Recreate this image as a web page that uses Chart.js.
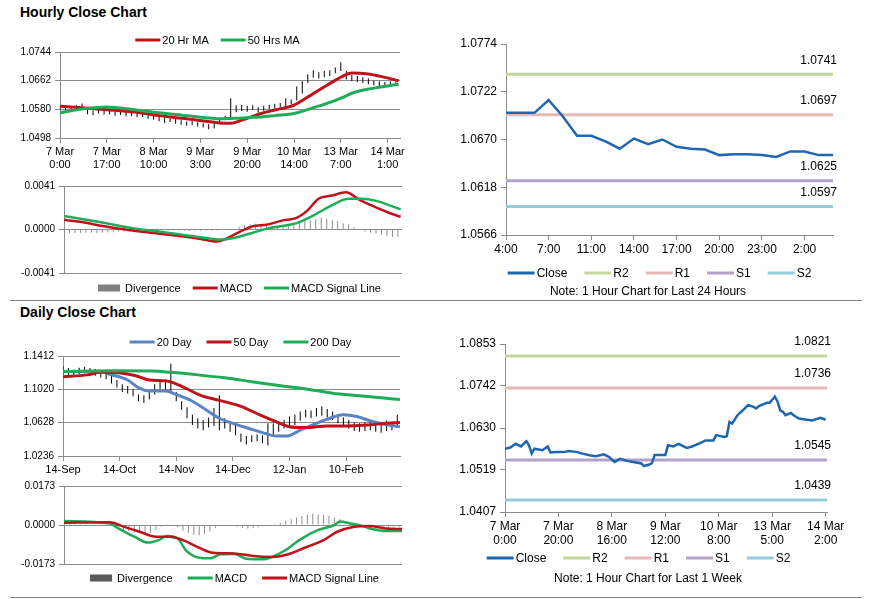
<!DOCTYPE html>
<html>
<head>
<meta charset="utf-8">
<script src="https://cdn.jsdelivr.net/npm/chart.js@4.4.1/dist/chart.umd.min.js"></script>
<style>
    body { margin: 0; background: #fff; font-family: "Liberation Sans", Arial, sans-serif; }
    #page { position: relative; width: 873px; height: 601px; overflow: hidden; }
    #page canvas { position: absolute; }
    .title { position: absolute; left: 20px; font-weight: bold; font-size: 14px; line-height: 17px; color: #000; }
    .rule { position: absolute; left: 10px; width: 852px; height: 0; border-top: 1px solid #808080; }
</style>
</head>
<body>
<div id="page">
    <div class="title" style="top:4px">Hourly Close Chart</div>
    <div class="title" style="top:304px">Daily Close Chart</div>
    <div class="rule" style="top:300px"></div>
    <div class="rule" style="top:597px"></div>
    <canvas id="hourPrice" width="420" height="145" style="left:0;top:30px"></canvas>
    <canvas id="hourMacd" width="420" height="122" style="left:0;top:176px"></canvas>
    <canvas id="dayHour" width="453" height="270" style="left:420px;top:30px"></canvas>
    <canvas id="dayPrice" width="420" height="150" style="left:0;top:325px"></canvas>
    <canvas id="dayMacd" width="420" height="118" style="left:0;top:476px"></canvas>
    <canvas id="weekHour" width="453" height="270" style="left:420px;top:325px"></canvas>
</div>
<script>
// ---- Hourly close (last week, hours since 7 Mar 0:00) ----
const hourTicks = [0, 17, 34, 51, 68, 85, 102, 119];
const hourTickLabels = [["7 Mar", "0:00"], ["7 Mar", "17:00"], ["8 Mar", "10:00"], ["9 Mar", "3:00"],
    ["9 Mar", "20:00"], ["10 Mar", "14:00"], ["13 Mar", "7:00"], ["14 Mar", "1:00"]];
const hourStep = 2; // one bar every 2 hours
const hourLow = [
    1.0577, 1.0579, 1.0580, 1.0582, 1.0585, 1.0566, 1.0563, 1.0568, 1.0565, 1.0566,
    1.0562, 1.0564, 1.0560, 1.0561, 1.0557, 1.0558, 1.0553, 1.0550, 1.0546, 1.0541,
    1.0544, 1.0539, 1.0536, 1.0533, 1.0535, 1.0531, 1.0528, 1.0523, 1.0525, 1.0538,
    1.0549, 1.0556, 1.0572, 1.0575, 1.0573, 1.0578, 1.0571, 1.0576, 1.0580, 1.0583,
    1.0585, 1.0588, 1.0595, 1.0605, 1.0625, 1.0655, 1.0670, 1.0668, 1.0672, 1.0675,
    1.0683, 1.0690, 1.0665, 1.0660, 1.0658, 1.0655, 1.0652, 1.0648, 1.0646, 1.0644,
    1.0648, 1.0649];
const hourHigh = [
    1.0588, 1.0590, 1.0589, 1.0592, 1.0597, 1.0581, 1.0577, 1.0579, 1.0578, 1.0576,
    1.0574, 1.0575, 1.0573, 1.0572, 1.0570, 1.0568, 1.0566, 1.0563, 1.0560, 1.0557,
    1.0556, 1.0552, 1.0549, 1.0545, 1.0546, 1.0543, 1.0540, 1.0537, 1.0540, 1.0556,
    1.0562, 1.0612, 1.0592, 1.0593, 1.0590, 1.0592, 1.0586, 1.0590, 1.0593, 1.0596,
    1.0598, 1.0612, 1.0608, 1.0645, 1.0660, 1.0680, 1.0692, 1.0686, 1.0690, 1.0692,
    1.0700, 1.0715, 1.0690, 1.0678, 1.0675, 1.0672, 1.0668, 1.0662, 1.0660, 1.0658,
    1.0660, 1.0659];
const hourMaX = [0, 9, 17, 27, 36, 46, 53, 58, 62, 66, 69, 73, 78, 85, 91, 97, 103, 106, 112, 116, 123];
const hourMa20 = [1.0589, 1.0584, 1.0579, 1.0572, 1.0562, 1.0553, 1.0546, 1.0541, 1.0540, 1.0549, 1.0557,
    1.0568, 1.0578, 1.0592, 1.0620, 1.0649, 1.0676, 1.0684, 1.0681, 1.0675, 1.0662];
const hourMa50 = [1.0570, 1.0582, 1.0587, 1.0579, 1.0570, 1.0562, 1.0556, 1.0553, 1.0554, 1.0555, 1.0557,
    1.0558, 1.0562, 1.0568, 1.0582, 1.0597, 1.0615, 1.0626, 1.0638, 1.0643, 1.0652];
const hourMacdX = [0, 8, 13, 25, 35, 45, 50, 56, 59, 64, 69, 74, 80, 85, 89, 93, 98, 103, 108, 113, 118, 123];
const hourMacd = [0.00092, 0.00064, 0.00038, -0.0001, -0.0004, -0.0007, -0.0009, -0.00114, -0.0009, -0.00025,
    0.0003, 0.00045, 0.00086, 0.0011, 0.0018, 0.0029, 0.0032, 0.0035, 0.0028, 0.0022, 0.00165, 0.0012];
const hourSignalX = [0, 13, 25, 35, 45, 52, 57, 62, 69, 74, 81, 85, 91, 98, 104, 109, 114, 123];
const hourSignal = [0.00127, 0.0007, 0.00013, -0.0002, -0.00057, -0.0008, -0.00095, -0.0008, -0.0003, 0.00006,
    0.00038, 0.0006, 0.0013, 0.0023, 0.0029, 0.0029, 0.0027, 0.0019];
const hourDiv = [
    -0.00035, -0.00035, -0.00033, -0.00032, -0.0003, -0.0003, -0.00032, -0.0003, -0.00028, -0.00025,
    -0.00022, -0.0002, -0.00018, -0.00015, -0.00015, -0.00012, -0.0001, -0.0001, -0.00012, -0.00012,
    -0.0001, -0.0001, -0.00012, -0.00012, -0.0001, -0.00012, -0.0001, -0.00012, -0.0001, -0.00005,
    0.0, 0.00005, 0.00025, 0.0004, 0.0005, 0.00055, 0.0005, 0.0004, 0.00038, 0.00035,
    0.00035, 0.00033, 0.0004, 0.0006, 0.0008, 0.0009, 0.001, 0.0011, 0.001, 0.0009,
    0.0008, 0.0006, 0.0005, 0.0002, 0.0, -0.0002, -0.0003, -0.0004, -0.0005, -0.0006,
    -0.0007, -0.0007];

// ---- Last 24 hours with pivot levels ----
const h24Ticks = [0, 3, 6, 9, 12, 15, 18, 21];
const h24TickLabels = ["4:00", "7:00", "11:00", "14:00", "17:00", "20:00", "23:00", "2:00"];
const h24Close = [1.0699, 1.0699, 1.0699, 1.0713, 1.0695, 1.0674, 1.0674, 1.0668, 1.0660, 1.0671, 1.0665, 1.0670,
    1.0662, 1.0660, 1.0659, 1.0653, 1.0654, 1.0654, 1.0653, 1.0651, 1.0657, 1.0657, 1.0653, 1.0653];
const levelNames = ["R2", "R1", "S1", "S2"];
const h24Levels = [1.0741, 1.0697, 1.0625, 1.0597];

// ---- Daily close ----
const dayTicks = [0, 21, 42, 63, 84, 105];
const dayTickLabels = ["14-Sep", "14-Oct", "14-Nov", "14-Dec", "12-Jan", "10-Feb"];
const dayStep = 2;
const dayLow = [
    1.1200, 1.1190, 1.1170, 1.1200, 1.1210, 1.1200, 1.1180, 1.1160, 1.1140, 1.1090,
    1.1040, 1.0990, 1.0970, 1.0940, 1.0880, 1.0860, 1.0900, 1.0960, 1.1020, 1.1000,
    1.0980, 1.0880, 1.0780, 1.0680, 1.0600, 1.0560, 1.0540, 1.0570, 1.0590, 1.0540,
    1.0560, 1.0520, 1.0480, 1.0400, 1.0370, 1.0400, 1.0410, 1.0390, 1.0360, 1.0480,
    1.0520, 1.0560, 1.0590, 1.0600, 1.0650, 1.0690, 1.0680, 1.0700, 1.0710, 1.0690,
    1.0660, 1.0620, 1.0590, 1.0560, 1.0530, 1.0520, 1.0530, 1.0540, 1.0520, 1.0510,
    1.0530, 1.0540, 1.0570];
const dayHigh = [
    1.1290, 1.1270, 1.1250, 1.1275, 1.1285, 1.1270, 1.1260, 1.1240, 1.1230, 1.1200,
    1.1130, 1.1080, 1.1060, 1.1020, 1.0960, 1.0950, 1.1000, 1.1080, 1.1120, 1.1110,
    1.1320, 1.0990, 1.0880, 1.0810, 1.0720, 1.0680, 1.0660, 1.0690, 1.0800, 1.0950,
    1.0680, 1.0640, 1.0600, 1.0500, 1.0470, 1.0480, 1.0490, 1.0480, 1.0620, 1.0620,
    1.0640, 1.0660, 1.0700, 1.0720, 1.0760, 1.0780, 1.0770, 1.0800, 1.0820, 1.0790,
    1.0760, 1.0720, 1.0690, 1.0660, 1.0630, 1.0620, 1.0630, 1.0640, 1.0610, 1.0620,
    1.0650, 1.0640, 1.0720];
const dayMa20X = [0, 14, 17, 24, 28, 32, 38, 42, 48, 53, 58, 63, 69, 75, 79, 83, 88, 94, 99, 104, 109, 113, 119, 125];
const dayMa20 = [1.1230, 1.1230, 1.1200, 1.1130, 1.1040, 1.1000, 1.1000, 1.0960, 1.0880, 1.0780, 1.0680, 1.0620,
    1.0560, 1.0500, 1.0470, 1.0470, 1.0540, 1.0620, 1.0680, 1.0720, 1.0700, 1.0660, 1.0610, 1.0580];
const dayMa50X = [0, 9, 14, 22, 27, 32, 38, 43, 51, 58, 66, 73, 79, 84, 90, 98, 105, 113, 120, 125];
const dayMa50 = [1.1169, 1.1190, 1.1220, 1.1210, 1.1180, 1.1130, 1.1120, 1.1070, 1.0950, 1.0890, 1.0820, 1.0720,
    1.0640, 1.0580, 1.0570, 1.0590, 1.0590, 1.0600, 1.0620, 1.0630];
const dayMa200X = [0, 20, 33, 40, 50, 60, 70, 80, 90, 100, 110, 120, 125];
const dayMa200 = [1.1230, 1.1238, 1.1236, 1.1220, 1.1190, 1.1155, 1.1110, 1.1065, 1.1025, 1.0975, 1.0945, 1.0915, 1.0900];
const dayMacdX = [0, 17, 19, 26, 31, 35, 38, 42, 45, 50, 54, 58, 63, 68, 74, 77, 82, 87, 94, 100, 102, 106, 110, 114, 119, 125];
const dayMacd = [0.0018, 0.0007, -0.0007, -0.0052, -0.0078, -0.0067, -0.0049, -0.0059, -0.0111, -0.0145, -0.0148,
    -0.0130, -0.0129, -0.0151, -0.0152, -0.0141, -0.0111, -0.0067, -0.0022, 0.0000, 0.0015, 0.0007, -0.0003,
    -0.0018, -0.0027, -0.0027];
const daySignalX = [0, 17, 22, 28, 34, 39, 44, 50, 55, 63, 70, 77, 82, 89, 96, 101, 107, 113, 119, 125];
const daySignal = [0.0010, 0.0012, -0.0007, -0.0030, -0.0052, -0.0052, -0.0067, -0.0101, -0.0123, -0.0126, -0.0138,
    -0.0142, -0.0133, -0.0101, -0.0067, -0.0030, -0.0009, -0.0004, -0.0015, -0.0018];
const dayDiv = [
    0.0008, 0.0007, 0.0006, 0.0005, 0.0004, 0.0003, 0.0002, 0.0001, 0.0, -0.0005,
    -0.0012, -0.0020, -0.0027, -0.0033, -0.0038, -0.0040, -0.0035, -0.0022, -0.0008, 0.0003,
    0.0002, -0.0010, -0.0025, -0.0035, -0.0043, -0.0045, -0.0040, -0.0028, -0.0012, -0.0003,
    -0.0002, -0.0003, -0.0008, -0.0012, -0.0015, -0.0013, -0.0010, -0.0006, -0.0002, 0.0003,
    0.0010, 0.0018, 0.0026, 0.0033, 0.0040, 0.0045, 0.0050, 0.0048, 0.0045, 0.0040,
    0.0033, 0.0025, 0.0015, 0.0006, -0.0002, -0.0006, -0.0009, -0.0011, -0.0012, -0.0012,
    -0.0011, -0.0010, -0.0010];

// ---- Last week, 1 hour chart with pivot levels ----
const weekTicks = [0, 20, 40, 60, 80, 100, 120];
const weekTickLabels = [["7 Mar", "0:00"], ["7 Mar", "20:00"], ["8 Mar", "16:00"], ["9 Mar", "12:00"],
    ["10 Mar", "8:00"], ["13 Mar", "5:00"], ["14 Mar", "2:00"]];
const weekX = [0, 2, 4, 6, 8, 9, 10, 11, 14, 16, 17, 19, 22, 24, 27, 29, 32, 34, 37, 39,
    41, 43, 46, 48, 51, 52, 54, 55, 56, 58, 60, 61, 63, 65, 68, 70, 73, 75, 78, 79,
    82, 83, 84, 85, 87, 89, 91, 93, 94, 95, 98, 99, 101, 102, 103, 104, 105, 107, 108, 110,
    113, 115, 118, 120];
const weekClose = [1.0575, 1.0578, 1.0588, 1.0581, 1.0595, 1.0584, 1.0562, 1.0575, 1.0571, 1.0581,
    1.0565, 1.0566, 1.0566, 1.0569, 1.0566, 1.0562, 1.0557, 1.0555, 1.0560, 1.0553,
    1.0540, 1.0548, 1.0542, 1.0540, 1.0536, 1.0529, 1.0533, 1.0537, 1.0558, 1.0558,
    1.0558, 1.0584, 1.0581, 1.0588, 1.0577, 1.0581, 1.0590, 1.0597, 1.0597, 1.0611,
    1.0606, 1.0608, 1.0646, 1.0642, 1.0664, 1.0677, 1.0691, 1.0686, 1.0682, 1.0688,
    1.0697, 1.0697, 1.0713, 1.0700, 1.0677, 1.0673, 1.0664, 1.0670, 1.0664, 1.0655,
    1.0652, 1.0650, 1.0657, 1.0652];
const weekLevels = [1.0821, 1.0736, 1.0545, 1.0439];

document.addEventListener("DOMContentLoaded", function () {
    const GRID = "#8c8c8c";
    const RED = "#c0121b";
    const GREEN = "#20ab58";
    const BLUE = "#5b85c2";
    const CLOSE_BLUE = "#1f66b1";
    const DIV_GRAY = "#8e8e8e";
    const LEVEL_COLORS = ["#c3d69b", "#e6b9b8", "#b3a2c7", "#93cddd"];
    const NARROW = '"Liberation Sans Narrow", "Liberation Sans", Arial, sans-serif';
    const SANS = '"Liberation Sans", Arial, sans-serif';

    // draws legend, level value labels and the note line
    function extras(cfg) {
        return {
            id: "extras",
            afterDatasetsDraw(chart) {
                const ctx = chart.ctx;
                const area = chart.chartArea;
                const ys = chart.scales.y;
                ctx.save();
                ctx.textBaseline = "middle";
                ctx.fillStyle = "#000";
                chart.data.datasets.forEach(function (ds) {
                    if (ds.level === undefined) return;
                    ctx.font = cfg.font;
                    ctx.textAlign = "right";
                    ctx.fillText(ds.level.toFixed(4), area.right + 4, ys.getPixelForValue(ds.level) - 14);
                });
                ctx.font = cfg.font;
                ctx.textAlign = "left";
                const items = cfg.order.map(i => chart.data.datasets[i]);
                const widths = items.map(d => cfg.box + 3 + ctx.measureText(d.label).width);
                let x = cfg.x - (widths.reduce((a, b) => a + b, 0) + cfg.gap * (items.length - 1)) / 2;
                items.forEach(function (d, k) {
                    ctx.fillStyle = d.legendColor || d.borderColor;
                    if (d.type === "bar") ctx.fillRect(x, cfg.y - 3.5, cfg.box - 3, 7);
                    else ctx.fillRect(x, cfg.y - 1.5, cfg.box, 3);
                    ctx.fillStyle = "#000";
                    ctx.fillText(d.label, x + cfg.box + 2, cfg.y + 0.5);
                    x += widths[k] + cfg.gap;
                });
                if (cfg.note) {
                    ctx.textAlign = "center";
                    ctx.fillText(cfg.note, cfg.noteX, cfg.noteY);
                }
                ctx.restore();
            },
        };
    }

    function yAxis(ticks, width, size, gridOn) {
        return {
            min: ticks[0],
            max: ticks[ticks.length - 1],
            afterBuildTicks: s => { s.ticks = ticks.map(v => ({ value: v })); },
            afterFit: s => { s.width = width; },
            ticks: { callback: v => v.toFixed(4), font: { family: SANS, size }, color: "#000", padding: 4 },
            grid: { drawOnChartArea: gridOn, color: GRID, tickLength: 5 },
            border: { color: GRID },
        };
    }

    function xAxis(max, ticks, labels, height, size, show) {
        return {
            type: "linear",
            min: 0,
            max,
            offset: false,
            display: show,
            afterBuildTicks: s => { s.ticks = ticks.map(v => ({ value: v })); },
            afterFit: s => { s.height = height; },
            ticks: {
                callback: (v, i) => labels[i],
                font: { family: NARROW, size, lineHeight: 1.2 },
                color: "#000",
                maxRotation: 0,
                autoSkip: false,
                padding: 2,
            },
            grid: { drawOnChartArea: false, color: GRID, tickLength: 5, offset: false },
            border: { color: GRID },
        };
    }

    function options(padding, scales) {
        return {
            responsive: false,
            animation: false,
            events: [],
            layout: { padding },
            plugins: { legend: { display: false }, tooltip: { enabled: false } },
            scales,
        };
    }

    function line(label, xs, ys, color, width, order, smooth) {
        return {
            type: "line",
            label,
            data: ys.map((v, i) => ({ x: xs[i], y: v })),
            borderColor: color,
            borderWidth: width,
            pointRadius: 0,
            fill: false,
            tension: smooth ? 0.4 : 0,
            cubicInterpolationMode: smooth ? "monotone" : "default",
            order,
        };
    }

    function rangeBars(label, lows, highs, step) {
        return {
            type: "bar",
            label,
            data: lows.map((v, i) => ({ x: i * step, y: [v, highs[i]] })),
            backgroundColor: "#000",
            barThickness: 1,
            inflateAmount: 0,
            order: 5,
        };
    }

    function divBars(values, step, color) {
        return {
            type: "bar",
            label: "Divergence",
            data: values.map((v, i) => ({ x: i * step, y: v })),
            backgroundColor: DIV_GRAY,
            legendColor: color,
            barThickness: 1,
            inflateAmount: 0,
            order: 5,
        };
    }

    function levelLines(levels, xMax) {
        return levels.map((v, i) => ({
            type: "line",
            label: levelNames[i],
            level: v,
            data: [{ x: 0, y: v }, { x: xMax, y: v }],
            borderColor: LEVEL_COLORS[i],
            borderWidth: 3,
            pointRadius: 0,
            fill: false,
            order: 2,
        }));
    }

    // Hourly close with moving averages
    new Chart(document.getElementById("hourPrice"), {
        type: "line",
        data: {
            datasets: [
                line("20 Hr MA", hourMaX, hourMa20, RED, 3, 1, true),
                line("50 Hrs MA", hourMaX, hourMa50, GREEN, 3, 0, true),
                rangeBars("Price", hourLow, hourHigh, hourStep),
            ],
        },
        options: options({ top: 22, right: 20, left: 0, bottom: 0 }, {
            x: xAxis(123.5, hourTicks, hourTickLabels, 37, 11, true),
            y: yAxis([1.0498, 1.0580, 1.0662, 1.0744], 60, 10, true),
        }),
        plugins: [extras({ font: "11px " + SANS, order: [0, 1], x: 218, y: 10, box: 25, gap: 11 })],
    });

    // Hourly MACD
    new Chart(document.getElementById("hourMacd"), {
        type: "line",
        data: {
            datasets: [
                divBars(hourDiv, hourStep, "#7f7f7f"),
                line("MACD", hourMacdX, hourMacd, RED, 2.5, 1, true),
                line("MACD Signal Line", hourSignalX, hourSignal, GREEN, 2.5, 0, true),
            ],
        },
        options: options({ top: 10, right: 18, left: 0, bottom: 25 }, {
            x: xAxis(123.5, hourTicks, hourTickLabels, 0, 11, false),
            y: yAxis([-0.0041, 0, 0.0041], 64, 10, true),
        }),
        plugins: [extras({ font: "11px " + SANS, order: [0, 1, 2], x: 240, y: 112, box: 25, gap: 11 })],
    });

    // Last 24 hours with R2/R1/S1/S2
    new Chart(document.getElementById("dayHour"), {
        type: "line",
        data: {
            datasets: [
                line("Close", h24Close.map((v, i) => i), h24Close, CLOSE_BLUE, 2.5, 0, false),
            ].concat(levelLines(h24Levels, 23)),
        },
        options: options({ top: 14, right: 40, left: 0, bottom: 43 }, {
            x: xAxis(23, h24Ticks, h24TickLabels, 22, 12, true),
            y: yAxis([1.0566, 1.0618, 1.0670, 1.0722, 1.0774], 86, 12, false),
        }),
        plugins: [extras({
            font: "12px " + SANS, order: [0, 1, 2, 3, 4], x: 240, y: 243, box: 27, gap: 16,
            note: "Note: 1 Hour Chart for Last 24 Hours", noteX: 228, noteY: 262,
        })],
    });

    // Daily close with 20/50/200 day averages
    new Chart(document.getElementById("dayPrice"), {
        type: "line",
        data: {
            datasets: [
                line("20 Day", dayMa20X, dayMa20, BLUE, 3, 2, true),
                line("50 Day", dayMa50X, dayMa50, RED, 3, 1, true),
                line("200 Day", dayMa200X, dayMa200, GREEN, 3, 0, true),
                rangeBars("Price", dayLow, dayHigh, dayStep),
            ],
        },
        options: options({ top: 31, right: 20, left: 0, bottom: 0 }, {
            x: xAxis(125, dayTicks, dayTickLabels, 19, 11, true),
            y: yAxis([1.0236, 1.0628, 1.1020, 1.1412], 63, 10, true),
        }),
        plugins: [extras({ font: "11px " + SANS, order: [0, 1, 2], x: 241, y: 17, box: 25, gap: 14 })],
    });

    // Daily MACD
    new Chart(document.getElementById("dayMacd"), {
        type: "line",
        data: {
            datasets: [
                divBars(dayDiv, dayStep, "#595959"),
                line("MACD", dayMacdX, dayMacd, GREEN, 2.5, 1, true),
                line("MACD Signal Line", daySignalX, daySignal, RED, 2.5, 0, true),
            ],
        },
        options: options({ top: 8, right: 18, left: 0, bottom: 30 }, {
            x: xAxis(125, dayTicks, dayTickLabels, 0, 11, false),
            y: yAxis([-0.0173, 0, 0.0173], 64, 10, true),
        }),
        plugins: [extras({ font: "11px " + SANS, order: [0, 1, 2], x: 235, y: 102, box: 25, gap: 14 })],
    });

    // Last week hourly with R2/R1/S1/S2
    new Chart(document.getElementById("weekHour"), {
        type: "line",
        data: {
            datasets: [
                line("Close", weekX, weekClose, CLOSE_BLUE, 2.5, 0, false),
            ].concat(levelLines(weekLevels, 120.5)),
        },
        options: options({ top: 19, right: 46, left: 0, bottom: 47 }, {
            x: xAxis(120.5, weekTicks, weekTickLabels, 36, 12, true),
            y: yAxis([1.0407, 1.0519, 1.0630, 1.0742, 1.0853], 85, 12, false),
        }),
        plugins: [extras({
            font: "12px " + SANS, order: [0, 1, 2, 3, 4], x: 219, y: 233, box: 27, gap: 16,
            note: "Note: 1 Hour Chart for Last 1 Week", noteX: 228, noteY: 254,
        })],
    });
});
</script>
</body>
</html>
